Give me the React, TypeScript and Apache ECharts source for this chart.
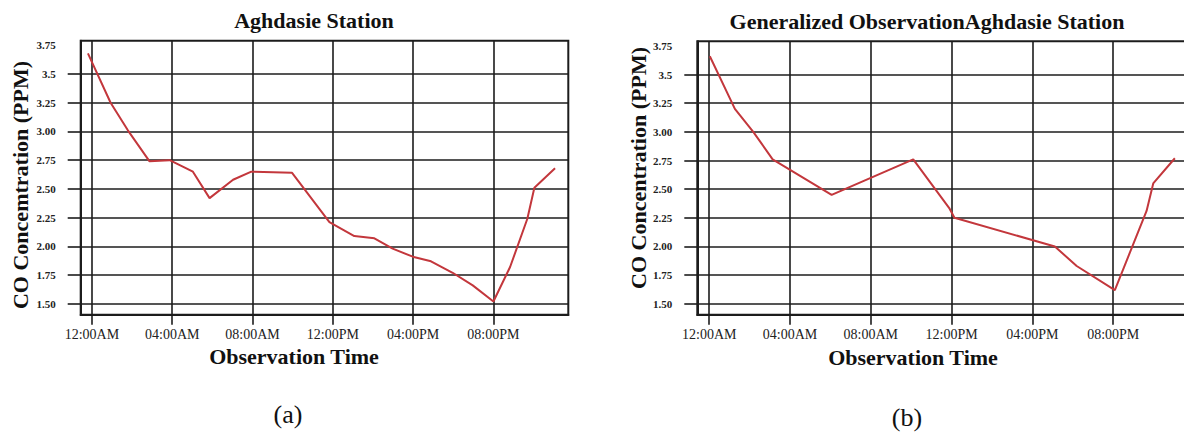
import React, { useEffect, useRef } from "react";
import * as echarts from "echarts";

// ---- data ----
const tickHours = [0, 4, 8, 12, 16, 20];
const tickLabels = ["12:00AM", "04:00AM", "08:00AM", "12:00PM", "04:00PM", "08:00PM"];
const yTickValues = [1.5, 1.75, 2.0, 2.25, 2.5, 2.75, 3.0, 3.25, 3.5, 3.75];
const yTickLabels = ["1.50", "1.75", "2.00", "2.25", "2.50", "2.75", "3.00", "3.25", "3.5", "3.75"];

// (a) Aghdasie Station – observed
const obsHours = [-0.2, 0.93, 1.79, 2.87, 3.87, 5.03, 5.86, 7.03, 7.94, 9.97, 11.83, 13.07, 14.07, 14.98, 15.98, 16.89, 17.97, 18.97, 20.0, 20.83, 21.69, 22.04, 23.07];
const obsValues = [3.68, 3.25, 3.01, 2.74, 2.75, 2.65, 2.42, 2.58, 2.65, 2.64, 2.21, 2.09, 2.07, 1.98, 1.91, 1.87, 1.77, 1.66, 1.52, 1.82, 2.24, 2.51, 2.68];

// (b) Generalized observation
const genHours = [0.03, 1.27, 2.18, 3.14, 6.06, 10.1, 11.9, 12.14, 17.11, 18.19, 20.08, 21.65, 21.98, 23.05];
const genValues = [3.66, 3.2, 3.0, 2.76, 2.45, 2.76, 2.33, 2.25, 2.0, 1.83, 1.62, 2.31, 2.55, 2.77];

const titleA = "Aghdasie Station";
const titleB = "Generalized ObservationAghdasie Station";
const yNameA = "CO Concemtration (PPM)";
const yNameB = "CO Concentration (PPM)";
const xName = "Observation Time";

const FONT = "'Liberation Serif', 'Times New Roman', serif";
const LINE = "#1c1c1c";
const RED = "#c3373c";

function xLabel(v: number): string {
  const i = tickHours.findIndex((h) => Math.abs(h - v) < 1e-6);
  return i >= 0 ? tickLabels[i] : "";
}
function yLabel(v: number): string {
  const i = yTickValues.findIndex((t) => Math.abs(t - v) < 1e-6);
  return i >= 0 ? yTickLabels[i] : "";
}

function xAxisFor(gridIndex: number, min: number, max: number) {
  return {
    type: "value",
    gridIndex,
    min,
    max,
    axisLine: { show: true, onZero: false, lineStyle: { color: LINE, width: 2 } },
    axisTick: { show: true, customValues: tickHours, length: 10, lineStyle: { color: LINE, width: 1.6 } },
    axisLabel: {
      customValues: tickHours,
      formatter: (v: number) => xLabel(v),
      margin: 13,
      fontFamily: FONT,
      fontSize: 14,
      color: "#222",
    },
    splitLine: { show: true, lineStyle: { color: LINE, width: 1.6 } },
  };
}

function yAxisFor(gridIndex: number) {
  const gridTicks = yTickValues.filter((v) => v < 3.7);
  return {
    type: "value",
    gridIndex,
    min: 1.405,
    max: 3.79,
    axisLine: { show: true, onZero: false, lineStyle: { color: LINE, width: 2 } },
    axisTick: { show: true, customValues: gridTicks, length: 13, lineStyle: { color: LINE, width: 1.6 } },
    axisLabel: {
      customValues: yTickValues,
      formatter: (v: number) => yLabel(v),
      margin: 25,
      fontFamily: FONT,
      fontSize: 11,
      fontWeight: "bold",
      color: "#222",
    },
    splitLine: { show: true, lineStyle: { color: LINE, width: 1.6 } },
  };
}

function text(t: string, x: number, y: number, font: string, rotation = 0) {
  return {
    type: "text",
    x,
    y,
    rotation,
    style: { text: t, font, fill: "#111", textAlign: "center", textVerticalAlign: "middle" },
  };
}

export default function App() {
  const ref = useRef<HTMLDivElement>(null);
  useEffect(() => {
    if (!ref.current) return;
    const chart = echarts.init(ref.current, undefined, { renderer: "svg" });
    const boldBig = `bold 22px ${FONT}`;
    const option: any = {
      animation: false,
      backgroundColor: "#ffffff",
      grid: [
        { left: 80.7, top: 40.7, width: 487.6, height: 274, show: true, borderColor: LINE, borderWidth: 2, backgroundColor: "transparent", containLabel: false, outerBoundsMode: "none" },
        { left: 697.3, top: 41.3, width: 492.7, height: 273.4, show: true, borderColor: LINE, borderWidth: 2, backgroundColor: "transparent", containLabel: false, outerBoundsMode: "none" },
      ],
      xAxis: [xAxisFor(0, -0.56, 23.73), xAxisFor(1, -0.59, 23.8)],
      yAxis: [yAxisFor(0), yAxisFor(1)],
      series: [
        {
          type: "line",
          xAxisIndex: 0,
          yAxisIndex: 0,
          data: obsHours.map((h, i) => [h, obsValues[i]]),
          symbol: "none",
          lineStyle: { color: RED, width: 2 },
        },
        {
          type: "line",
          xAxisIndex: 1,
          yAxisIndex: 1,
          data: genHours.map((h, i) => [h, genValues[i]]),
          symbol: "none",
          lineStyle: { color: RED, width: 2 },
        },
      ],
      graphic: [
        text(titleA, 314, 20, boldBig),
        text(titleB, 927, 21, boldBig),
        text(xName, 294, 356, boldBig),
        text(xName, 913, 357, boldBig),
        text(yNameA, 20, 185, boldBig, Math.PI / 2),
        text(yNameB, 638, 168, boldBig, Math.PI / 2),
        text("(a)", 288, 414, `26px ${FONT}`),
        text("(b)", 907, 417, `26px ${FONT}`),
      ],
    };
    chart.setOption(option);
    return () => chart.dispose();
  }, []);
  return (
    <div
      ref={ref}
      style={{ position: "absolute", left: 0, top: 0, width: 1184, height: 433, background: "#fff" }}
    />
  );
}
